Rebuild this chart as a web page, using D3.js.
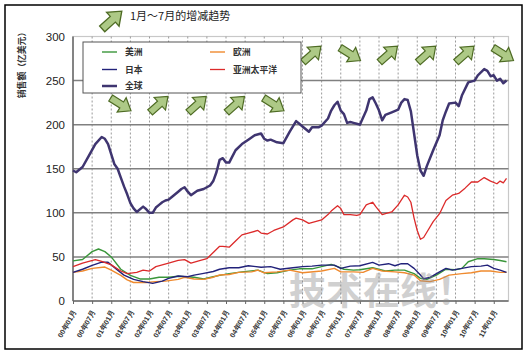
<!DOCTYPE html>
<html>
<head>
<meta charset="utf-8">
<script src="https://cdn.jsdelivr.net/npm/d3@7/dist/d3.min.js"></script>
<style>
  body { margin: 0; background: #fff; }
  svg { display: block; font-family: "Noto Sans CJK SC", "DejaVu Sans", sans-serif; }
</style>
</head>
<body>
<div id="chart"></div>
<script>
// months counted from 2000-01 (0) to 2011-05 (136), values in 亿美元
const americas = [[0,45.5],[3,47],[6,56],[8,59],[10,56],[12,50],[15,36],[18,29],[21,25],[24,25],[27,27],[30,27],[33,28],[35,27.5],[38,27],[41,25],[44,27.5],[46,29],[49,31],[53,33],[58,35],[61,31],[64,32],[68,35],[71,36.5],[75,36.5],[78,39],[81,41.5],[83,39],[85,36],[88,35],[90,35.5],[94,37.7],[98,34],[101,35],[104,35],[107,31],[109,25.7],[111,24.5],[114,29.4],[117,36],[120,35.5],[122,37],[124,44.5],[127,48],[129,48],[132,47],[134,46],[136,44.5]]
const europe = [[0,32.5],[3,34],[6,37],[10,38.5],[12,35],[15,29],[17,24],[19,21],[23,21],[26,22],[29,22.6],[33,24.5],[35,26.8],[38,25],[41,24.5],[44,27],[46,29.5],[49,30],[52,32.5],[56,33],[58,35],[60,32],[64,33],[68,35],[72,32],[78,34],[82,37],[84,33],[88,33],[91,32.5],[94,37],[97,34],[101,33],[104,32],[107,29.4],[109,23],[112,22],[115,24.5],[118,29.4],[122,31],[125,32],[128,34],[131,34],[134,32.5],[136,32.5]]
const japan = [[0,32.5],[3,36],[6,40.5],[9,44],[11,44],[14,35],[16,29.4],[19,24.5],[22,22],[25,20],[28,22.6],[30,25.7],[33,28.3],[36,27.5],[38,29.4],[41,31.4],[44,33.5],[46,36],[49,37.7],[52,37.7],[55,40],[59,38.3],[62,39],[65,36],[69,37.7],[72,39],[75,39.6],[78,40.7],[82,40.7],[84,37],[87,39.5],[90,40],[94,43.8],[96,40.7],[99,42.3],[101,40],[103,42.3],[105,42.3],[107,37],[109,29.4],[110,25.3],[112,26.8],[115,33],[117,37],[119,35],[122,37],[125,39],[128,39.6],[130,40.7],[132,37],[134,35],[136,32.5]]
const asiaPacific = [[0,39],[3,43],[7,47],[9,45],[12,41],[15,34],[17,31],[20,32.5],[22,35],[24,34],[26,39],[30,43],[33,46],[35,47],[37,43],[40,46],[42,48],[44,55],[46,62],[47,62],[49,61],[51,68],[53,75],[55,77],[58,80],[59,77],[61,76],[63,80],[66,84],[69,92],[70,94],[72,92],[74,88],[76,90],[78,92],[80,98],[81,102],[83,108],[84,105],[85,98],[87,98],[89,97],[90,98],[92,109],[94,112],[95,107],[97,98],[98,99],[100,101],[102,109],[104,120],[105,118],[106,112],[107,94],[108,80],[109,70],[110,72],[111,78],[113,90],[115,99],[117,114],[119,120],[121,122],[123,128],[125,135],[127,135],[129,140],[131,136],[133,133],[134,136],[135,134],[136,139]]
const world = [[0,148],[1,146],[3,152],[5,165],[7,178],[9,186],[10,184],[11,178],[13,155],[14,150],[15,140],[16,130],[17,121],[18,111],[19,105],[20,101],[22,107],[23,104],[24,100],[25,100],[26,106],[27,109],[28,112],[29,114],[30,115],[31,118],[33,124],[34,127],[35,129],[36,124],[37,120],[39,125],[41,127],[43,131],[44,136],[45,146],[46,160],[47,162],[48,157],[49,157],[50,164],[51,171],[53,178],[55,183],[57,188],[59,190],[60,184],[61,182],[62,183],[64,180],[66,179],[68,192],[70,204],[71,201],[72,198],[74,192],[75,197],[77,197],[78,199],[80,207],[81,216],[82,222],[83,226],[84,216],[85,212],[86,202],[87,203],[88,202],[89,201],[90,200],[92,216],[93,229],[94,231],[95,224],[96,216],[97,205],[98,211],[100,214],[102,217],[103,225],[104,229],[105,228],[106,215],[107,190],[108,165],[109,148],[110,142],[111,153],[113,171],[115,188],[116,205],[117,215],[118,224],[120,225],[121,221],[122,233],[124,248],[126,250],[127,256],[129,263],[130,261],[131,255],[132,256],[133,250],[134,252],[135,247],[136,250]]

const seriesNames = ['美洲', '欧洲', '日本', '亚洲太平洋', '全球']
const tickLabels = ['00年01月','00年07月','01年01月','01年07月','02年01月','02年07月','03年01月','03年07月','04年01月','04年07月','05年01月','05年07月','06年01月','06年07月','07年01月','07年07月','08年01月','08年07月','09年01月','09年07月','10年01月','10年07月','11年01月']
const yTicks = [0, 50, 100, 150, 200, 250, 300]

// 1~7月 trend per year
const arrowYears = [2001, 2002, 2003, 2004, 2005, 2006, 2007, 2008, 2009, 2010, 2011]
const arrowTrend = ['down', 'up', 'up', 'up', 'down', 'up', 'down', 'up', 'up', 'up', 'down']

let width = 526
let height = 354

let svg = d3.select('#chart')
  .append('svg')
    .attr('width', width)
    .attr('height', height)

svg.append('rect')
  .attr('x', 5).attr('y', 5)
  .attr('width', 517).attr('height', 344)
  .attr('fill', '#fff')
  .attr('stroke', '#000')
  .attr('stroke-width', 1.5)

let xScale = d3.scaleLinear()
  .domain([0, 136])
  .range([73, 506.5])

let yScale = d3.scaleLinear()
  .domain([0, 300])
  .range([301, 36.5])

let plotRight = 508.5

// plot frame (light)
svg.append('rect')
  .attr('x', 73).attr('y', yScale(300))
  .attr('width', plotRight - 73).attr('height', yScale(0) - yScale(300))
  .attr('fill', 'none')
  .attr('stroke', '#c8c8c8')
  .attr('stroke-width', 1.2)

let tickMonths = tickLabels.map((d, i) => i * 6)

// vertical dashed grid
svg.selectAll('.vgrid')
  .data(tickMonths.slice(1))
  .enter()
  .append('line')
    .attr('x1', d => xScale(d)).attr('x2', d => xScale(d))
    .attr('y1', yScale(300)).attr('y2', yScale(0))
    .attr('stroke', '#9a9a9a')
    .attr('stroke-width', 1)
    .attr('stroke-dasharray', '2,2')

// horizontal grid
svg.selectAll('.hgrid')
  .data(yTicks.slice(1, -1))
  .enter()
  .append('line')
    .attr('x1', 73).attr('x2', plotRight)
    .attr('y1', d => yScale(d)).attr('y2', d => yScale(d))
    .attr('stroke', '#808080')
    .attr('stroke-width', 1.5)

// axes
let yAxis = d3.axisLeft(yScale)
  .tickValues(yTicks)
  .tickSize(0)
  .tickPadding(8)

let yG = svg.append('g')
  .attr('transform', 'translate(73,0)')
  .call(yAxis)
yG.select('.domain').remove()
yG.selectAll('text')
  .attr('font-size', 11.5)
  .attr('fill', '#222')
  .attr('font-family', 'Liberation Sans, Arial, sans-serif')

let xAxis = d3.axisBottom(xScale)
  .tickValues(tickMonths)
  .tickFormat((d, i) => tickLabels[i])
  .tickSize(3)

let xG = svg.append('g')
  .attr('transform', 'translate(0,' + yScale(0) + ')')
  .call(xAxis)
xG.select('.domain').remove()
xG.selectAll('line').attr('stroke', '#666')
xG.selectAll('text')
  .attr('font-size', 7.2)
  .attr('font-weight', 'bold')
  .attr('fill', '#333')
  .attr('text-anchor', 'end')
  .attr('transform', 'translate(1,10) rotate(-60)')
  .attr('x', 0).attr('y', 0).attr('dy', '0.35em')

svg.append('line')
  .attr('x1', 73).attr('x2', 73)
  .attr('y1', yScale(300)).attr('y2', yScale(0))
  .attr('stroke', '#666').attr('stroke-width', 1.5)
svg.append('line')
  .attr('x1', 73).attr('x2', plotRight)
  .attr('y1', yScale(0)).attr('y2', yScale(0))
  .attr('stroke', '#666').attr('stroke-width', 1.5)

// y title
svg.append('text')
  .attr('transform', 'translate(25,63) rotate(-90)')
  .attr('text-anchor', 'middle')
  .attr('font-size', 8.8)
  .attr('font-weight', 'bold')
  .attr('fill', '#333')
  .text('销售额（亿美元）')

let line = d3.line()
  .x(d => xScale(d[0]))
  .y(d => yScale(d[1]))

let series = [
  { data: americas, color: '#3a963a', w: 1.4 },
  { data: europe, color: '#ef8a2e', w: 1.4 },
  { data: japan, color: '#22227a', w: 1.4 },
  { data: asiaPacific, color: '#dc2a2a', w: 1.3 },
  { data: world, color: '#3f3570', w: 2.5 }
]

svg.selectAll('.series')
  .data(series)
  .enter()
  .append('path')
    .attr('d', d => line(d.data))
    .attr('fill', 'none')
    .attr('stroke', d => d.color)
    .attr('stroke-width', d => d.w)
    .attr('stroke-linejoin', 'round')

// watermark
svg.append('text')
  .attr('x', 289).attr('y', 305)
  .attr('font-size', 37)
  .attr('font-weight', 'bold')
  .attr('fill', '#8c8c8c')
  .attr('opacity', 0.4)
  .text('技术在线！')

// block arrows
let arrowPath = 'M-12,-3.5 L1,-3.5 L1,-8.5 L12,0 L1,8.5 L1,3.5 L-12,3.5 Z'

let drawArrow = (x, y, trend, k) => {
  svg.append('path')
    .attr('d', arrowPath)
    .attr('transform', 'translate(' + x + ',' + y + ') rotate(' + (trend === 'up' ? -42 : 32) + ') scale(' + (k || 1) + ')')
    .attr('fill', '#adc986')
    .attr('stroke', '#4e6b24')
    .attr('stroke-width', 1.2)
    .attr('stroke-linejoin', 'miter')
}

arrowYears.forEach((yr, i) => {
  let m = (yr - 2000) * 12 + 3
  let level = yr < 2006 ? 223 : 280
  drawArrow(xScale(m), yScale(level), arrowTrend[i])
})

// legend box
svg.append('rect')
  .attr('x', 83).attr('y', 42)
  .attr('width', 218).attr('height', 51)
  .attr('fill', '#fff')
  .attr('stroke', '#555')
  .attr('stroke-width', 1)

let legendPos = [[102, 52], [210, 52], [102, 69.5], [210, 69.5], [102, 86]]
series.forEach((s, i) => {
  let p = legendPos[i]
  svg.append('line')
    .attr('x1', p[0]).attr('x2', p[0] + 15)
    .attr('y1', p[1]).attr('y2', p[1])
    .attr('stroke', s.color)
    .attr('stroke-width', s.w)
  svg.append('text')
    .attr('x', p[0] + 23).attr('y', p[1])
    .attr('dy', '0.35em')
    .attr('font-size', 8.8)
    .attr('font-weight', 'bold')
    .attr('fill', '#333')
    .text(seriesNames[i])
})

// title with key arrow
drawArrow(112, 20, 'up', 1.1)
svg.append('text')
  .attr('x', 130).attr('y', 20)
  .attr('font-size', 11)
  .attr('fill', '#222')
  .text('1月～7月的增减趋势')
</script>
</body>
</html>
